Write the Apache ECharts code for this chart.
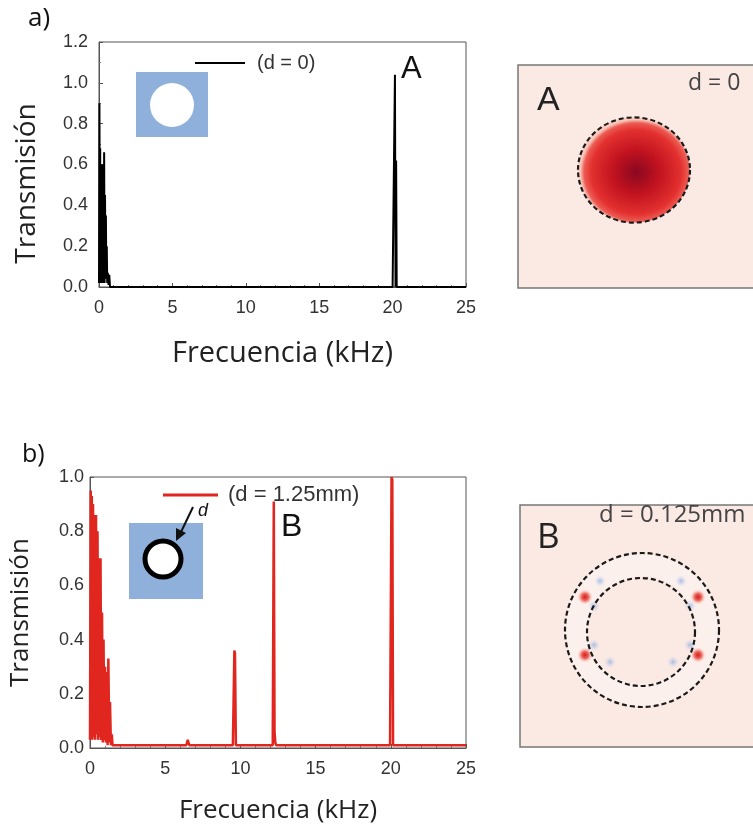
<!DOCTYPE html>
<html>
<head>
<meta charset="utf-8">
<script src="https://cdn.jsdelivr.net/npm/echarts@6/dist/echarts.min.js"></script>
<style>
  html, body { margin: 0; padding: 0; background: #fff; }
  #chart { width: 753px; height: 828px; }
</style>
</head>
<body>
<div id="chart"></div>
<script>
// Panel a): transmission of the plain hole (d = 0), frequency in kHz
const freqA = [0, 0.03, 0.06, 0.08, 0.1, 0.13, 0.15, 0.18, 0.2, 0.23, 0.26, 0.29, 0.32, 0.35, 0.38, 0.41, 0.44, 0.47, 0.5, 0.53, 0.56, 0.6, 0.65, 0.7, 0.75, 1, 5, 10, 15, 20, 20.12, 20.16, 20.2, 20.24, 20.28, 20.32, 25];
const transA = [0.02, 0.9, 0.05, 0.68, 0.02, 0.6, 0.03, 0.58, 0.02, 0.6, 0.03, 0.52, 0.02, 0.66, 0.02, 0.45, 0.05, 0.35, 0.04, 0.2, 0.02, 0.07, 0.01, 0.06, 0, 0, 0, 0, 0, 0, 0, 1.04, 0, 0.62, 0, 0, 0];

// Panel b): transmission of the ring (d = 1.25mm)
const freqB = [0, 0.05, 0.08, 0.12, 0.16, 0.2, 0.25, 0.3, 0.35, 0.4, 0.45, 0.5, 0.55, 0.6, 0.65, 0.7, 0.75, 0.8, 0.85, 0.9, 0.95, 1.0, 1.05, 1.12, 1.17, 1.22, 1.28, 1.33, 1.39, 1.45, 1.5, 3, 6.4, 6.5, 6.6, 9.5, 9.6, 9.64, 9.7, 9.8, 12.15, 12.22, 12.27, 12.32, 12.38, 12.45, 19.95, 20.05, 20.1, 20.15, 20.25, 25];
const transB = [0.03, 0.95, 0.05, 0.93, 0.03, 0.9, 0.04, 0.86, 0.03, 0.86, 0.05, 0.8, 0.03, 0.7, 0.04, 0.7, 0.03, 0.5, 0.02, 0.4, 0.03, 0.3, 0.02, 0.28, 0.01, 0.33, 0.02, 0.17, 0.01, 0.05, 0.01, 0.01, 0.01, 0.03, 0.01, 0.01, 0.36, 0.35, 0.01, 0.01, 0.01, 0.91, 0.06, 0.02, 0.01, 0.01, 0.01, 1.0, 0.99, 0.01, 0.01, 0.01];

const pairs = (xs, ys) => xs.map((x, i) => [x, ys[i]]);

const tickLabel = { color: '#333', fontSize: 18, fontFamily: 'Liberation Sans' };
const nameFont = (size, padding) => ({ color: '#222', fontSize: size, fontFamily: 'Open Sans', padding: padding || 0 });

const xAxisFor = (gridIndex, nameSize, gap) => ({
  type: 'value', gridIndex, min: 0, max: 25, interval: 5,
  name: 'Frecuencia (kHz)', nameLocation: 'middle', nameGap: gap, nameTextStyle: nameFont(nameSize),
  axisLine: { lineStyle: { color: '#555' } },
  axisTick: { inside: true, length: 4, lineStyle: { color: '#555' } },
  minorTick: { show: true, splitNumber: 5, length: 2, lineStyle: { color: '#777' } },
  splitLine: { show: false },
  axisLabel: Object.assign({ margin: 12 }, tickLabel)
});

// the top panel's y title sits a bit below the middle, hence the padding
const yAxisFor = (gridIndex, max, nameSize, gap, margin, padding) => ({
  type: 'value', gridIndex, min: 0, max, interval: 0.2,
  name: 'Transmisión', nameLocation: 'middle', nameGap: gap, nameRotate: 90, nameTextStyle: nameFont(nameSize, padding),
  axisLine: { lineStyle: { color: '#555' } },
  axisTick: { inside: true, length: 4, lineStyle: { color: '#555' } },
  minorTick: { show: true, splitNumber: 2, length: 2, lineStyle: { color: '#777' } },
  splitLine: { show: false },
  axisLabel: Object.assign({ margin, formatter: v => v.toFixed(1) }, tickLabel)
});

const redSpot = (cx, cy) => ({ type: 'circle', shape: { cx, cy, r: 8 }, style: {
  fill: { type: 'radial', x: 0.5, y: 0.5, r: 0.5, colorStops: [
    { offset: 0, color: '#d81c1c' }, { offset: 0.45, color: '#ec6a60' }, { offset: 1, color: 'rgba(250,220,215,0)' }] } } });
const blueSpot = (cx, cy) => ({ type: 'circle', shape: { cx, cy, r: 6 }, style: {
  fill: { type: 'radial', x: 0.5, y: 0.5, r: 0.5, colorStops: [
    { offset: 0, color: 'rgba(140,170,225,0.75)' }, { offset: 1, color: 'rgba(200,215,240,0)' }] } } });
const dashed = (cx, cy, r) => ({ type: 'circle', shape: { cx, cy, r }, style: { fill: null, stroke: '#1a1a1a', lineWidth: 2.2, lineDash: [5, 3] } });

// drawings of the unit cells and field maps
const graphics = [
  { type: 'text', left: 28, top: 6, style: { text: 'a)', fontSize: 26, fontFamily: 'Open Sans', fill: '#111' } },
  { type: 'text', left: 22, top: 442, style: { text: 'b)', fontSize: 25, fontFamily: 'Open Sans', fill: '#111' } },
  { type: 'text', left: 401, top: 54, style: { text: 'A', fontSize: 31, fontFamily: 'Liberation Sans', fill: '#111' } },
  { type: 'text', left: 281, top: 511, style: { text: 'B', fontSize: 32, fontFamily: 'Liberation Sans', fill: '#111' } },
  // inset a
  { type: 'rect', shape: { x: 136, y: 72, width: 72, height: 65 }, style: { fill: '#8fb0da' } },
  { type: 'circle', shape: { cx: 172, cy: 105, r: 22 }, style: { fill: '#fff' } },
  // inset b
  { type: 'rect', shape: { x: 129, y: 523, width: 74, height: 76 }, style: { fill: '#8fb0da' } },
  { type: 'circle', shape: { cx: 163, cy: 559, r: 18 }, style: { fill: '#fff', stroke: '#000', lineWidth: 5 } },
  { type: 'line', shape: { x1: 193, y1: 507, x2: 181, y2: 532 }, style: { stroke: '#111', lineWidth: 2 } },
  { type: 'polygon', shape: { points: [[176, 541], [176, 528], [186, 533]] }, style: { fill: '#111' } },
  { type: 'text', left: 198, top: 502, style: { text: 'd', fontSize: 18, fontStyle: 'italic', fontFamily: 'Liberation Sans', fill: '#111' } },
  // field map A
  { type: 'rect', shape: { x: 518, y: 65, width: 250, height: 223 }, style: { fill: '#fbe9e3', stroke: '#777', lineWidth: 1.5 } },
  { type: 'circle', x: 634, y: 170, scaleY: 0.94, shape: { cx: 0, cy: 0, r: 56 }, style: {
      fill: { type: 'radial', x: 0.52, y: 0.52, r: 0.5, colorStops: [
        { offset: 0, color: '#8a0820' }, { offset: 0.4, color: '#c0121f' },
        { offset: 0.8, color: '#e3302f' }, { offset: 0.93, color: '#ec5a52' }, { offset: 1, color: '#f8c8bc' }] } } },
  { type: 'circle', x: 634, y: 170, scaleY: 0.94, shape: { cx: 0, cy: 0, r: 56 }, style: { fill: null, stroke: '#1a1a1a', lineWidth: 2.2, lineDash: [5, 3] } },
  { type: 'text', left: 537, top: 84, style: { text: 'A', fontSize: 34, fontFamily: 'Liberation Sans', fill: '#222' } },
  { type: 'text', left: 688, top: 72, style: { text: 'd = 0', fontSize: 23, fontFamily: 'Open Sans', fill: '#444' } },
  // field map B
  { type: 'rect', shape: { x: 520, y: 505, width: 250, height: 242 }, style: { fill: '#fbe9e3', stroke: '#777', lineWidth: 1.5 } },
  { type: 'ring', shape: { cx: 642, cy: 630, r: 76, r0: 54 }, style: { fill: 'rgba(255,255,255,0.35)' } },
  redSpot(585, 597), redSpot(698, 597), redSpot(585, 655), redSpot(698, 655),
  blueSpot(600, 581), blueSpot(681, 581), blueSpot(610, 662), blueSpot(673, 662),
  blueSpot(594, 606), blueSpot(690, 606), blueSpot(594, 645), blueSpot(690, 645),
  dashed(642, 630, 77), dashed(641, 632, 54),
  { type: 'text', left: 537, top: 521, style: { text: 'B', fontSize: 35, fontFamily: 'Open Sans', fill: '#222' } },
  { type: 'text', left: 599, top: 503, style: { text: 'd = 0.125mm', fontSize: 24, fontFamily: 'Open Sans', fill: '#444' } }
];

const chart = echarts.init(document.getElementById('chart'));
chart.setOption({
  animation: false,
  grid: [
    { left: 99, top: 42, width: 367, height: 245, show: true, borderColor: '#555', borderWidth: 1 },
    { left: 89, top: 477, width: 377, height: 271, show: true, borderColor: '#555', borderWidth: 1 }
  ],
  xAxis: [xAxisFor(0, 29, 52), xAxisFor(1, 26, 50)],
  yAxis: [yAxisFor(0, 1.2, 28, 58, 11, [0, 38, 0, 0]), yAxisFor(1, 1.0, 26, 56, 6)],
  legend: [
    { data: ['(d = 0)'], left: 195, top: 53, padding: 0, icon: 'rect', itemWidth: 50, itemHeight: 2, itemGap: 8,
      textStyle: { fontSize: 20, color: '#333', fontFamily: 'Liberation Sans', padding: [0, 0, 0, 7] } },
    { data: ['(d = 1.25mm)'], left: 163, top: 484, padding: 0, icon: 'rect', itemWidth: 55, itemHeight: 3, itemGap: 9,
      textStyle: { fontSize: 22, color: '#333', fontFamily: 'Liberation Sans', padding: [0, 0, 0, 5] } }
  ],
  series: [
    { name: '(d = 0)', type: 'line', xAxisIndex: 0, yAxisIndex: 0, symbol: 'none',
      lineStyle: { color: '#000', width: 2 }, itemStyle: { color: '#000' },
      data: pairs(freqA, transA) },
    { name: '(d = 1.25mm)', type: 'line', xAxisIndex: 1, yAxisIndex: 1, symbol: 'none',
      lineStyle: { color: '#e0261f', width: 2.5 }, itemStyle: { color: '#e0261f' },
      data: pairs(freqB, transB) }
  ],
  graphic: graphics
});
</script>
</body>
</html>
